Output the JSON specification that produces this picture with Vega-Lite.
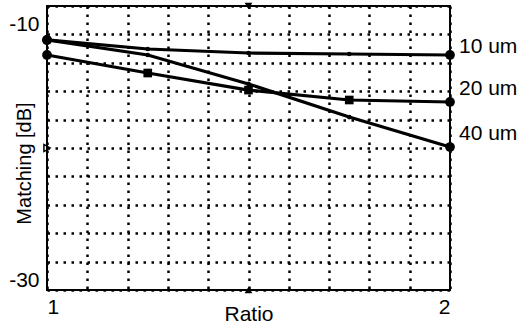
{
  "$schema": "https://vega.github.io/schema/vega-lite/v6.json",
  "width": 403,
  "height": 284,
  "autosize": {"type": "none"},
  "padding": {"left": 47, "top": 6, "right": 67, "bottom": 37},
  "background": "white",
  "config": {
    "view": {"stroke": "black", "strokeWidth": 2},
    "font": "Liberation Sans"
  },
  "datasets": {
    "curves": [
      {"series": "10 um", "ratio": 1.0, "db": -12.39},
      {"series": "10 um", "ratio": 1.25, "db": -13.03},
      {"series": "10 um", "ratio": 1.5, "db": -13.31},
      {"series": "10 um", "ratio": 1.75, "db": -13.38},
      {"series": "10 um", "ratio": 2.0, "db": -13.45},
      {"series": "20 um", "ratio": 1.0, "db": -13.45},
      {"series": "20 um", "ratio": 1.25, "db": -14.72},
      {"series": "20 um", "ratio": 1.5, "db": -15.92},
      {"series": "20 um", "ratio": 1.75, "db": -16.62},
      {"series": "20 um", "ratio": 2.0, "db": -16.76},
      {"series": "40 um", "ratio": 1.0, "db": -12.39},
      {"series": "40 um", "ratio": 1.25, "db": -13.45},
      {"series": "40 um", "ratio": 1.5, "db": -15.49},
      {"series": "40 um", "ratio": 1.75, "db": -17.82},
      {"series": "40 um", "ratio": 2.0, "db": -19.93}
    ],
    "labels": [
      {"series": "10 um", "ratio": 2.0, "db": -12.92},
      {"series": "20 um", "ratio": 2.0, "db": -15.81},
      {"series": "40 um", "ratio": 2.0, "db": -18.98}
    ],
    "markers": [
      {"ratio": 1.5, "db": -10, "kind": "top"},
      {"ratio": 1.5, "db": -30, "kind": "bottom"},
      {"ratio": 1.0, "db": -20, "kind": "left"}
    ]
  },
  "layer": [
    {
      "data": {"name": "curves"},
      "mark": {"type": "line", "color": "black", "strokeWidth": 3.2},
      "encoding": {
        "x": {
          "field": "ratio", "type": "quantitative",
          "scale": {"domain": [1, 2], "nice": false, "zero": false},
          "axis": {
            "values": [1, 1.1, 1.2, 1.3, 1.4, 1.5, 1.6, 1.7, 1.8, 1.9, 2],
            "tickCount": 20,
            "grid": true, "gridColor": "black", "gridDash": [2.5, 5.5], "gridWidth": 2.5, "gridOpacity": 1,
            "domain": false, "ticks": false,
            "labelExpr": "datum.value == 1 || datum.value == 2 ? '' + datum.value : ''",
            "labelFontSize": 21, "labelColor": "black", "labelPadding": 6,
            "labelAlign": {"condition": {"test": "datum.value <= 1", "value": "left"}, "value": "right"},
            "labelBaseline": "top",
            "title": "Ratio", "titleFontSize": 21, "titleFontWeight": "normal", "titleColor": "black",
            "titleY": 24, "titleBaseline": "middle"
          }
        },
        "y": {
          "field": "db", "type": "quantitative",
          "scale": {"domain": [-30, -10], "nice": false, "zero": false},
          "axis": {
            "values": [-30, -28, -26, -24, -22, -20, -18, -16, -14, -12, -10],
            "tickCount": 20,
            "grid": true, "gridColor": "black", "gridDash": [2.5, 5.5], "gridWidth": 2.5, "gridOpacity": 1,
            "domain": false, "ticks": false,
            "labelExpr": "datum.value == -10 || datum.value == -30 ? '' + datum.value : ''",
            "labelFontSize": 21, "labelColor": "black", "labelPadding": 8,
            "labelBaseline": {"condition": {"test": "datum.value >= -10", "value": "top"}, "value": "alphabetic"},
            "labelOffset": {"condition": {"test": "datum.value >= -10", "value": 7}, "value": -4},
            "title": "Matching [dB]", "titleFontSize": 20, "titleFontWeight": "normal", "titleColor": "black",
            "titleX": -23, "titleY": 157, "titleAngle": -90, "titleAlign": "center", "titleBaseline": "middle"
          }
        },
        "detail": {"field": "series"}
      }
    },
    {
      "data": {"name": "curves"},
      "transform": [{"filter": "datum.series == '20 um' && datum.ratio > 1 && datum.ratio < 2"}],
      "mark": {"type": "point", "shape": "square", "filled": true, "color": "black", "size": 75, "opacity": 1},
      "encoding": {
        "x": {"field": "ratio", "type": "quantitative"},
        "y": {"field": "db", "type": "quantitative"}
      }
    },
    {
      "data": {"name": "curves"},
      "transform": [{"filter": "datum.series != '20 um' && datum.ratio > 1 && datum.ratio < 2"}],
      "mark": {"type": "point", "shape": "circle", "filled": true, "color": "black", "size": 22, "opacity": 1},
      "encoding": {
        "x": {"field": "ratio", "type": "quantitative"},
        "y": {"field": "db", "type": "quantitative"}
      }
    },
    {
      "data": {"name": "curves"},
      "transform": [{"filter": "datum.ratio == 1 || datum.ratio == 2"}],
      "mark": {"type": "point", "shape": "circle", "filled": true, "color": "black", "size": 95, "opacity": 1},
      "encoding": {
        "x": {"field": "ratio", "type": "quantitative"},
        "y": {"field": "db", "type": "quantitative"}
      }
    },
    {
      "data": {"name": "markers"},
      "transform": [{"filter": "datum.kind == 'top'"}],
      "mark": {"type": "point", "shape": "triangle-down", "filled": true, "color": "black", "size": 60, "opacity": 1},
      "encoding": {
        "x": {"field": "ratio", "type": "quantitative"},
        "y": {"field": "db", "type": "quantitative"}
      }
    },
    {
      "data": {"name": "markers"},
      "transform": [{"filter": "datum.kind == 'bottom'"}],
      "mark": {"type": "point", "shape": "triangle-up", "filled": true, "color": "black", "size": 60, "opacity": 1},
      "encoding": {
        "x": {"field": "ratio", "type": "quantitative"},
        "y": {"field": "db", "type": "quantitative"}
      }
    },
    {
      "data": {"name": "markers"},
      "transform": [{"filter": "datum.kind == 'left'"}],
      "mark": {"type": "point", "shape": "triangle-right", "filled": false, "color": "black", "strokeWidth": 1.5, "size": 50, "opacity": 1},
      "encoding": {
        "x": {"field": "ratio", "type": "quantitative"},
        "y": {"field": "db", "type": "quantitative"}
      }
    },
    {
      "data": {"name": "labels"},
      "mark": {"type": "text", "align": "left", "baseline": "middle", "dx": 9, "fontSize": 21, "color": "black"},
      "encoding": {
        "x": {"field": "ratio", "type": "quantitative"},
        "y": {"field": "db", "type": "quantitative"},
        "text": {"field": "series"}
      }
    }
  ]
}
